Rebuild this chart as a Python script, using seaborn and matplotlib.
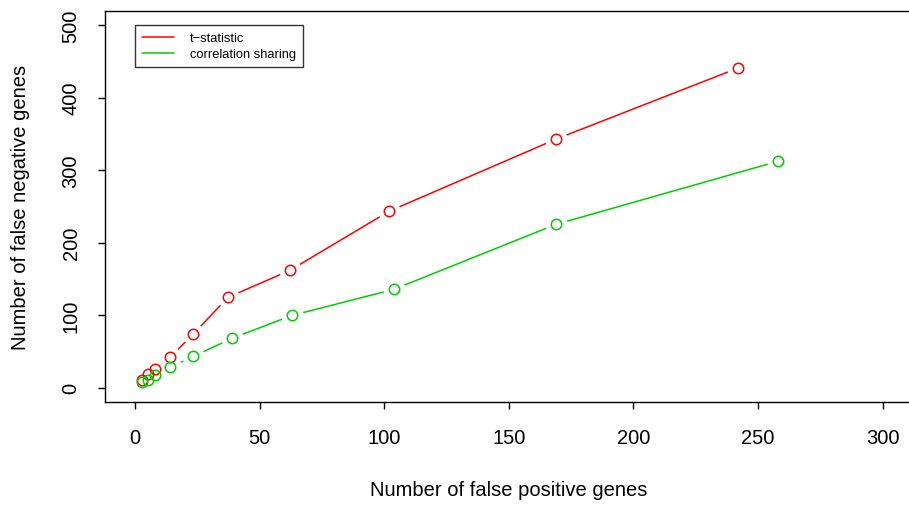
import matplotlib
matplotlib.use("Agg")
import matplotlib.pyplot as plt
import seaborn as sns
import pandas as pd

# data
fp_t = [2.8, 5.2, 8.0, 14.0, 23.3, 37.3, 62.2, 101.9, 168.9, 241.9]
fn_t = [9.7, 19.3, 24.9, 41.4, 73.2, 124.3, 161.6, 243.0, 342.5, 440.6]
fp_c = [2.8, 5.2, 8.0, 14.0, 23.3, 38.9, 63.0, 103.9, 168.9, 257.9]
fn_c = [6.9, 9.7, 16.6, 27.6, 42.8, 67.7, 99.4, 135.4, 225.0, 312.0]
series_names = ["t\u2212statistic", "correlation sharing"]
colors = ["#FF0000", "#00CD00"]
xticks = [0, 50, 100, 150, 200, 250, 300]
yticks = [0, 100, 200, 300, 400, 500]

df = pd.concat([
    pd.DataFrame({"fp": fp_t, "fn": fn_t, "method": series_names[0]}),
    pd.DataFrame({"fp": fp_c, "fn": fn_c, "method": series_names[1]}),
], ignore_index=True)

sns.set_style("white")
plt.rcParams["font.family"] = ["Liberation Sans", "DejaVu Sans"]
plt.rcParams["text.color"] = "black"
plt.rcParams["axes.labelcolor"] = "black"
plt.rcParams["xtick.color"] = "black"
plt.rcParams["ytick.color"] = "black"

fig = plt.figure(figsize=(9.09, 5.06), dpi=100)
ax = fig.add_axes([105/909, 1-403/506, (912.6-105)/909, (403-11.5)/506])

sns.lineplot(data=df, x="fp", y="fn", hue="method", palette=colors,
             estimator=None, sort=False, ax=ax, linewidth=1.1, legend=False, zorder=2)
# white halos to create R type="b" gaps
ax.plot(df["fp"], df["fn"], linestyle="none", marker="o", markersize=15,
        markerfacecolor="white", markeredgecolor="white", zorder=3)
for name, col in zip(series_names, colors):
    sub = df[df["method"] == name]
    ax.plot(sub["fp"], sub["fn"], linestyle="none", marker="o", markersize=7.5,
            markerfacecolor="none", markeredgecolor=col, markeredgewidth=1.1, zorder=4)

ax.set_xlim(-12, 312)
ax.set_ylim(-20, 520)
ax.set_xticks(xticks)
ax.set_yticks(yticks)
ax.set_xticklabels([str(v) for v in xticks], fontsize=14.5)
ax.set_yticklabels([str(v) for v in yticks], fontsize=14.5, rotation=90, va="center")
ax.tick_params(axis="x", direction="out", length=5, width=1, color="black",
               bottom=True, pad=14)
ax.tick_params(axis="y", direction="out", length=5, width=1, color="black",
               left=True, pad=12.5)
for s in ax.spines.values():
    s.set_color("black")
    s.set_linewidth(1)
ax.set_xlabel("Number of false positive genes", fontsize=14.5, labelpad=23.5)
ax.set_ylabel("Number of false negative genes", fontsize=14.5, labelpad=23)

from matplotlib.lines import Line2D
handles = [Line2D([0], [0], color=c, lw=1.1) for c in colors]
leg = ax.legend(handles, series_names, loc="upper left",
                bbox_to_anchor=((135-105)/(912.6-105), 1-(26-11.5)/(403-11.5)),
                fontsize=9.3, frameon=True, fancybox=False, edgecolor="black",
                handlelength=2.5, borderpad=0.55, labelspacing=0.3, handletextpad=1.2,
                borderaxespad=0)
leg.get_frame().set_linewidth(1)

fig.savefig("out.png", dpi=100)
